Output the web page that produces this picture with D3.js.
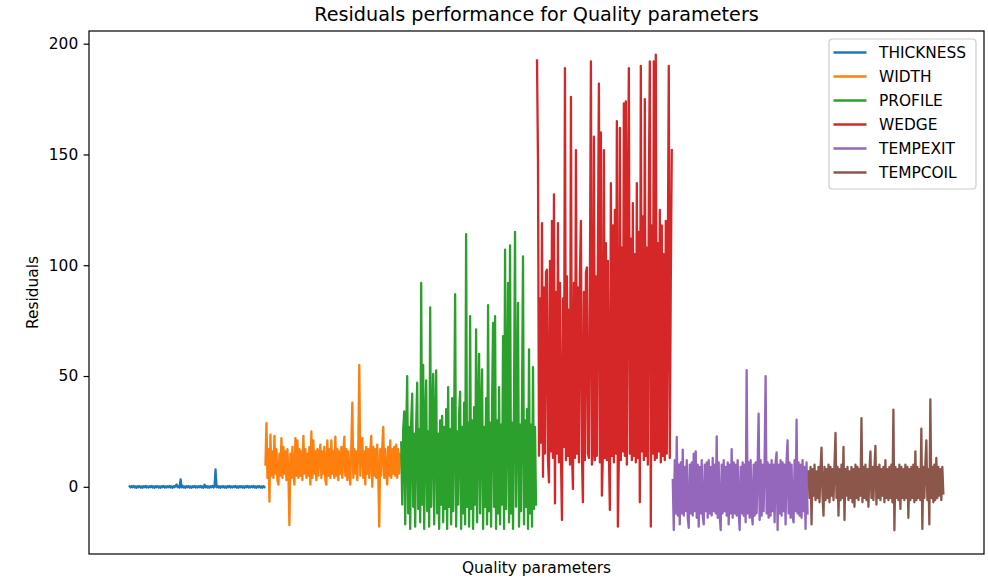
<!DOCTYPE html>
<html>
<head>
<meta charset="utf-8">
<script src="https://cdn.jsdelivr.net/npm/d3@7"></script>
<style>
  body { margin: 0; background: #fff; }
  svg text { font-family: "DejaVu Sans", sans-serif; fill: #000; }
</style>
</head>
<body>
<div id="chart"></div>
<script>
// Residual values, one list per quality parameter
const seriesNames = ["THICKNESS", "WIDTH", "PROFILE", "WEDGE", "TEMPEXIT", "TEMPCOIL"];
const seriesColors = ["#1f77b4", "#ff7f0e", "#2ca02c", "#d62728", "#9467bd", "#8c564b"];

const thickness = [
  0.2, -0.3, 0.3, -0.2, 0.4, -0.3, 0.2, -0.4, 0.3, -0.2, 0.3, -0.3, 0.2, -0.4, 0.3, -0.2, 0.4,
  -0.3, 0.2, -0.3, 0.3, -0.2, 0.4, -0.3, 0.2, -0.4, 0.3, -0.2, 0.3, -0.3, 0.2, -0.4, 0.3, -0.2,
  0.4, -0.3, 0.2, -0.3, 0.3, -0.2, 0.4, -0.3, 0.2, -0.4, 0.3, -0.2, 0.5, 1.0, -0.2, 0.3, -0.3,
  3.3, -0.2, 0.4, -0.3, 0.2, -0.4, 0.3, -0.2, 0.3, -0.3, 0.2, -0.4, 0.3, -0.2, 0.4, -0.3, 0.2,
  -0.3, 0.3, -0.2, 0.4, -0.3, 0.2, -0.4, 1.0, -0.2, 0.3, -0.3, 0.2, -0.4, 0.3, -0.2, 0.4, -0.3,
  0.2, 7.8, -0.2, 0.4, -0.3, 0.2, -0.4, 0.3, -0.2, 0.3, -0.3, 0.2, -0.4, 0.3, -0.2, 0.4, -0.3,
  0.2, -0.3, 0.3, -0.2, 0.4, -0.3, 0.2, -0.4, 0.3, -0.2, 0.3, -0.3, 0.2, -0.4, 0.3, -0.2, 0.4,
  -0.3, 0.2, -0.3, 0.3, -0.2, 0.4, -0.3, 0.2, -0.4, 0.3, -0.2, 0.3, -0.3, 0.2, -0.4, 0.3, -0.1
];
const width = [
  10, 28.7, 4, 17, -6.7, 23.5, 5, 16, 4, 23, 6, 17, 3, 1, 15, 5, 22,
  4, 18, 6, 16, 3, 17, 5, -17.3, 15, 4, 18, 6, 1, 22, 5, 21, 4,
  17, 5, 16, 3, 23, 6, 17, 4, 15, 5, 18, 1, 25, 4, 21, 6, 16,
  3, 17, 5, 15, 19, 4, 16, 6, 18, 3, 1, 21, 5, 17, 4, 21, 6,
  16, 4, 22.6, 5, 17, 3, 16, 6, 18, 4, 15, 22.6, 5, 17, 3, 16, 6,
  1, 18, 38, 4, 17, 6, 16, 3, 18, 55, 5, 17, 22, 4, 16, 1, 18,
  6, 17, 4, 16, 23, 0, 18, 5, 17, 4, 19, 6, -18, 17, 5, 18, 27,
  4, 17, 6, 1, 18, 5, 21, 4, 17, 6, 18, 5, 19, 4, 17, 6, 15
];
const profile = [
  20, -8, 26, 34, -17, 25, 50, -12, 27, -19, 30, 42, -9, 24, -18, 28, 47,
  -10, 26, -16, 92, -8, 55, -19, 27, 48, -11, 25, -18, 81, -9, 26, 51, -17,
  28, 52.5, -12, 24, -19, 30, -8, 32, -16, 27, -10, 35, -19, 45, -9, 26, -17,
  40, -11, 28, 87, -18, 25, -8, 33, 43, -19, 27, -12, 38, -17, 114, -9, 29,
  -18, 77, -10, 30, -19, 36, -8, 71, -16, 28, 60, -12, 31, 53, -19, 27, -9,
  40, -17, 82, -11, 29, -18, 37, 74, -9, 77, -19, 30, -12, 45, -17, 28, -8,
  68, -19, 107, -10, 33, 92, -16, 109, -12, 29, -19, 41, 115, -9, 31, 83, -18,
  28, -11, 39, 104, -17, 30, -9, 35, -19, 62, -12, 28, -18, 54, -10, 27, -8
];
const wedge = [
  192.5, 147, 14, 85, 20, 119, 4.5, 90, 15, 97, 98, 12, 2, 102, 16, 120, 13,
  132, -7.5, 88, 15, 119, 11, 92, 14, -15, 85, 18, 189, 12, 95, 14, 80, 10,
  176, 16, -1, 92, 13, 152, 15, 90, 11, 96, 120, 14, -7, 88, 12, 97, 99,
  15, 13, 93, 192, 10, 16, 158, 12, 95, 14, 105, 182, 11, 160, -4, 15, 152,
  13, 110, 12, 102, 16, -10.5, 137, 14, 118, 11, 125, 15, 165, -18, 13, 162, 12,
  108, 16, 173, 14, 174, 10, 120, 189, 15, 112, 12, 128, 14, 105, 11, 137, 13,
  115, -7, 190, 16, 122, 12, 175, 14, 108, 10, 130, 192, -18, 118, 15, 192, 12,
  195, 13, 110, 16, 125, 11, 118, 14, 105, 12, 120, 15, 100, 190, 13, 92, 152
];
const tempExit = [
  3, -19.5, 12, -12, 22.5, -13, 10, -17, 11, -12, 16.8, -13, 9, -11, 12, -14, -18.5,
  10, -12, 11, -13, 15, -11, 16, -14, 10, -18, 9, -12, 12, -13, -17, 10, -11,
  11, -14, 12, -12, 9, -13, 13, -11, 10, -12, 22.8, -14, 11, -13, -19.5, 10, -12,
  12, -11, 9, -13, 11, -17, 10, -12, 17, -14, 11, -12, 10, -13, 12, -11, -19.5,
  9, -12, 11, -13, 10, -16, 52.6, -12, 11, -14, 12, -11, -17, 10, -13, 11, -12,
  9, 33, -15, 12, -13, 10, -11, 12, 50, -12, 11, -14, 10, -13, 12, -11, 10,
  -16, 11, 15.5, -19.5, 10, -12, 12, -13, 11, -11, 10, -17, 12, 21, -12, 11, -14,
  10, -13, -16, 12, -11, 30.3, -12, 11, -13, 10, -14, 12, -11, 9, -19, 11, -12
];
const tempCoil = [
  7, -5, 9, -17, 8, -4, 10, -6, 7, -5, 9, -7, 8, 17.7, -4, -13, 9,
  -6, 8, -5, 10, -7, 9, -4, 8, -6, 10, 24.3, -5, 9, -13, 8, -6, 10,
  -5, 18, -15, 8, -4, 9, -6, 7, -5, 9, -7, 8, -9, 10, -5, 9, -6,
  8, -4, 31, -7, 9, -5, 10, -6, 8, -9, 7, 16, -5, 9, -6, 8, 18.5,
  -8, 9, -5, 10, -6, 8, -4, 9, -7, 12, -5, 8, -6, 9, -5, 10, -7,
  34.8, -19.6, 9, -5, 8, -6, 10, -10, 9, -5, 8, -6, 10, -5, 9, -14, 8,
  -6, 9, -5, 10, -7, 16, -6, 9, -5, 8, -6, 26.3, -19, 9, -5, 10, 21,
  -6, 8, -17, 39.4, -5, 9, -7, 10, -6, 13, -5, 9, -4, 8, -6, 9, -3
];
const yTicks = [0, 50, 100, 150, 200];

const seriesValues = [thickness, width, profile, wedge, tempExit, tempCoil];

const W = 988, H = 580;
const margin = { top: 31, right: 4, bottom: 26, left: 89 };
const plotW = W - margin.left - margin.right;
const plotH = H - margin.top - margin.bottom;

// each series continues the index where the previous one stopped
let offset = 0;
const series = seriesValues.map((vals, k) => {
  const s = { name: seriesNames[k], color: seriesColors[k], start: offset, values: vals };
  offset += vals.length;
  return s;
});
const nTotal = offset;

const all = seriesValues.flat();
const yMin = d3.min(all), yMax = d3.max(all);
const yPad = (yMax - yMin) * 0.05;
const xPad = (nTotal - 1) * 0.05;

const x = d3.scaleLinear().domain([-xPad, nTotal - 1 + xPad]).range([0, plotW]);
const y = d3.scaleLinear().domain([yMin - yPad, yMax + yPad]).range([plotH, 0]);

const svg = d3.select("#chart").append("svg")
  .attr("width", W)
  .attr("height", H);

svg.append("defs").append("clipPath").attr("id", "plot-clip")
  .append("rect").attr("width", plotW).attr("height", plotH);

const g = svg.append("g").attr("transform", `translate(${margin.left},${margin.top})`);

const line = d3.line()
  .x(d => x(d.i))
  .y(d => y(d.v));

g.append("g").attr("clip-path", "url(#plot-clip)")
  .selectAll("path")
  .data(series)
  .enter()
  .append("path")
  .attr("d", s => line(s.values.map((v, j) => ({ i: s.start + j, v }))))
  .attr("fill", "none")
  .attr("stroke", s => s.color)
  .attr("stroke-width", 2.3)
  .attr("stroke-linejoin", "round")
  .attr("stroke-linecap", "square");

// y axis
const yAxis = g.append("g")
  .call(d3.axisLeft(y).tickValues(yTicks).tickSize(5.4).tickPadding(5.4).tickFormat(d3.format("d")));
yAxis.select(".domain").remove();
yAxis.selectAll(".tick line").attr("stroke", "#000").attr("stroke-width", 1.2);
yAxis.selectAll(".tick text")
  .style("font-size", "15.4px")
  .style("font-family", "'DejaVu Sans', sans-serif")
  .attr("fill", "#000");

// frame
g.append("rect")
  .attr("width", plotW)
  .attr("height", plotH)
  .attr("fill", "none")
  .attr("stroke", "#000")
  .attr("stroke-width", 1.2);

// legend
const legend = g.append("g").attr("transform", `translate(${plotW - 155},8)`);
legend.append("rect")
  .attr("width", 147)
  .attr("height", 150)
  .attr("rx", 3.5)
  .attr("fill", "#fff")
  .attr("fill-opacity", 0.8)
  .attr("stroke", "#cccccc")
  .attr("stroke-width", 1.2);

const item = legend.selectAll(".item")
  .data(series)
  .enter()
  .append("g")
  .attr("transform", (d, i) => `translate(0,${13.5 + i * 24})`);
item.append("line")
  .attr("x1", 4.5).attr("x2", 37.5)
  .attr("stroke", d => d.color)
  .attr("stroke-width", 2.3);
item.append("text")
  .attr("x", 50)
  .attr("dy", "0.36em")
  .style("font-size", "15.4px")
  .text(d => d.name);

// title and axis labels
svg.append("text")
  .attr("x", margin.left + plotW / 2)
  .attr("y", 21)
  .attr("text-anchor", "middle")
  .style("font-size", "19.2px")
  .text("Residuals performance for Quality parameters");

svg.append("text")
  .attr("x", margin.left + plotW / 2)
  .attr("y", 573)
  .attr("text-anchor", "middle")
  .style("font-size", "15.4px")
  .text("Quality parameters");

svg.append("text")
  .attr("transform", `translate(38,${margin.top + plotH / 2}) rotate(-90)`)
  .attr("text-anchor", "middle")
  .style("font-size", "15.4px")
  .text("Residuals");
</script>
</body>
</html>
